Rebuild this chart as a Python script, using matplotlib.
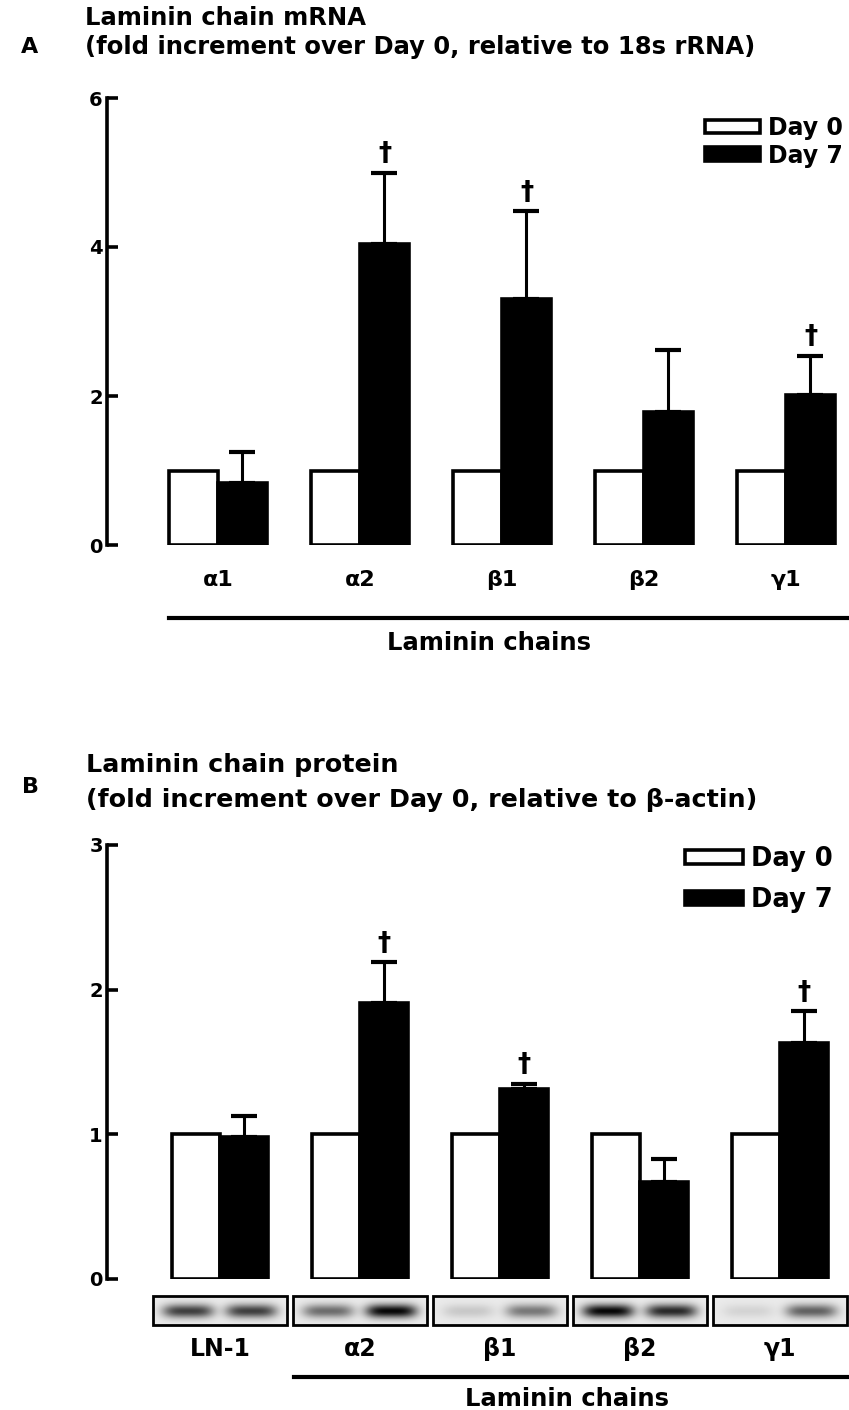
import matplotlib
matplotlib.use("Agg")
import matplotlib.pyplot as plt
import matplotlib.transforms as mtransforms
from matplotlib.patches import Patch
import numpy as np

# ---------------- data ----------------
chains_a = ["α1", "α2", "β1", "β2", "γ1"]
day0_a = [1.0, 1.0, 1.0, 1.0, 1.0]
day7_a = [0.83, 4.04, 3.30, 1.79, 2.01]
err7_a = [0.42, 0.96, 1.18, 0.83, 0.53]
sig_a = [False, True, True, False, True]

chains_b = ["LN-1", "α2", "β1", "β2", "γ1"]
day0_b = [1.0, 1.0, 1.0, 1.0, 1.0]
day7_b = [0.98, 1.91, 1.31, 0.67, 1.63]
err7_b = [0.15, 0.28, 0.04, 0.16, 0.22]
sig_b = [False, True, True, False, True]

# western blot band darkness (0 = none, 1 = black)
blot_day0 = [0.75, 0.55, 0.15, 1.00, 0.10]
blot_day7 = [0.75, 1.00, 0.50, 0.85, 0.60]

# ---------------- style ----------------
plt.rcParams.update({
    "font.family": ["DejaVu Sans"],
    "font.weight": "bold",
    "axes.linewidth": 2.6,
})

W, H = 849, 1410
fig = plt.figure(figsize=(W / 100, H / 100), dpi=100)
fig.patch.set_facecolor("white")


def box(x0, y0, x1, y1):
    return [x0 / W, 1 - y1 / H, (x1 - x0) / W, (y1 - y0) / H]


def fy(y):
    return 1 - y / H


bw = 0.345


def panel(ax, d0, d7, err, sig, ymax, step, xleft, xright):
    x = np.arange(len(d0))
    ax.bar(x - bw / 2, d0, bw, color="white", edgecolor="black", linewidth=2.6, zorder=2)
    ax.bar(x + bw / 2, d7, bw, color="black", edgecolor="black", linewidth=2.6, zorder=2)
    ax.errorbar(x + bw / 2, d7, yerr=[np.zeros(len(d7)), err], fmt="none",
                ecolor="black", elinewidth=2.2, capsize=9.5, capthick=3, zorder=3)
    for xi, v, e, s in zip(x, d7, err, sig):
        if s:
            ax.annotate("†", (xi + bw / 2, v + e), xytext=(0, 4), textcoords="offset points",
                        ha="center", va="bottom", fontsize=19, fontweight="bold")
    ax.set_xlim(xleft, xright)
    ax.set_ylim(0, ymax)
    for s in ["top", "right", "bottom"]:
        ax.spines[s].set_visible(False)
    ax.spines["left"].set_bounds(0, ymax)
    ax.set_yticks(np.arange(0, ymax + 0.01, step))
    ax.set_yticklabels([f"{v:g}" for v in np.arange(0, ymax + 0.01, step)])
    ax.tick_params(axis="y", direction="in", length=8, width=2.6, labelsize=14, pad=3)
    ax.patch.set_alpha(0)


def laminin_line(ax, x0, ypix, ytext, xtext):
    tr = mtransforms.blended_transform_factory(ax.transData, fig.transFigure)
    ax.plot([x0, 10], [fy(ypix), fy(ypix)], color="black", lw=3, transform=tr, clip_on=False)
    fig.text(xtext / W, fy(ytext), "Laminin chains", ha="center", va="center",
             fontsize=17.5, fontweight="bold")


def day_legend(ax, x0pix, ytop, ax_top, ax_h, fs, hl, hh, sp):
    ax.legend(handles=[Patch(facecolor="white", edgecolor="black", linewidth=2.6, label="Day 0"),
                       Patch(facecolor="black", edgecolor="black", linewidth=2.6, label="Day 7")],
              loc="upper left", bbox_to_anchor=((x0pix - 107) / 742, 1 - (ytop - ax_top) / ax_h),
              bbox_transform=ax.transAxes, frameon=False, fontsize=fs,
              handlelength=hl, handleheight=hh, handletextpad=0.3, labelspacing=sp,
              borderpad=0, borderaxespad=0)


# ---------------- panel A ----------------
axA = fig.add_axes(box(107, 98, 849, 545))
panel(axA, day0_a, day7_a, err7_a, sig_a, 6, 2, (107 - 218) / 142, (849 - 218) / 142)
axA.set_xticks(np.arange(5))
axA.set_xticklabels(chains_a)
axA.tick_params(axis="x", length=0, labelsize=16, pad=18)
laminin_line(axA, -bw, 618, 643, 489)
day_legend(axA, 705, 116, 98, 447, 17, 2.35, 0.5, 0.15)

fig.text(30 / W, fy(47), "A", ha="center", va="center", fontsize=16, fontweight="bold")
fig.text(85 / W, fy(18), "Laminin chain mRNA", ha="left", va="center", fontsize=17.5, fontweight="bold")
fig.text(85 / W, fy(47), "(fold increment over Day 0, relative to 18s rRNA)", ha="left", va="center",
         fontsize=17.5, fontweight="bold")

# ---------------- panel B ----------------
xl_b, xr_b = (107 - 220) / 140, (849 - 220) / 140
axB = fig.add_axes(box(107, 845, 849, 1279))
panel(axB, day0_b, day7_b, err7_b, sig_b, 3, 1, xl_b, xr_b)
axB.set_xticks([])
day_legend(axB, 685, 846, 845, 434, 18.5, 2.25, 0.45, 0.6)

fig.text(30 / W, fy(787), "B", ha="center", va="center", fontsize=16, fontweight="bold")
fig.text(86 / W, fy(765), "Laminin chain protein", ha="left", va="center", fontsize=18.3, fontweight="bold")
fig.text(86 / W, fy(800), "(fold increment over Day 0, relative to β-actin)", ha="left", va="center",
         fontsize=18.3, fontweight="bold")

# western blot strips
axW = fig.add_axes(box(107, 1296, 849, 1325))
axW.set_xlim(xl_b, xr_b)
axW.set_ylim(0, 1)
axW.axis("off")
nx, ny = 140, 30
gx = np.linspace(-0.5, 0.5, nx)
gy = np.linspace(0, 1, ny)
GX, GY = np.meshgrid(gx, gy)
half = 0.48
for i, (a0, a7) in enumerate(zip(blot_day0, blot_day7)):
    img = np.full((ny, nx), 0.92)
    for xc, a in [(-0.24, a0), (0.23, a7)]:
        img -= 0.9 * a * np.exp(-((GX - xc) / 0.19) ** 4 - ((GY - 0.52) / 0.24) ** 2)
    axW.imshow(img, cmap="gray", vmin=0, vmax=1, aspect="auto",
               extent=(i - half, i + half, 0, 1), interpolation="bilinear", clip_on=False)
    axW.add_patch(plt.Rectangle((i - half, 0), 2 * half, 1, fill=False, edgecolor="black",
                                linewidth=2, clip_on=False))

# x labels under blots
for i, lab in enumerate(chains_b):
    axW.text(i, -0.4, lab, ha="center", va="top", fontsize=17, fontweight="bold",
             transform=axW.transData)
laminin_line(axB, 0.53, 1377, 1399, 567)

fig.savefig("out.png", dpi=100, facecolor="white")
